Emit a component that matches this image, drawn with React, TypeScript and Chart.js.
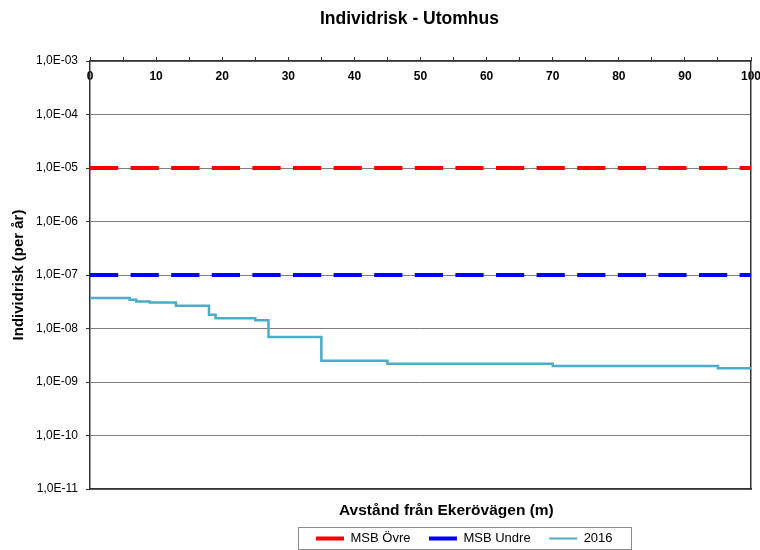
import React, { useEffect, useRef } from 'react';
import { Chart, registerables } from 'chart.js';

Chart.register(...registerables);

// ---- data ----
const chartTitle = 'Individrisk - Utomhus';
const xAxisTitle = 'Avstånd från Ekerövägen (m)';
const yAxisTitle = 'Individrisk (per år)';
const seriesNames = ['MSB Övre', 'MSB Undre', '2016'];
const seriesColors = ['#ff0000', '#0000ff', '#4bacc6'];

const msbDistances = [0, 100];
const msbUpper = [1e-5, 1e-5];
const msbLower = [1e-7, 1e-7];

const distances2016 = [0, 6, 7, 9, 13, 18, 19, 25, 27, 35, 45, 70, 95, 100];
const risk2016 = [3.7e-8, 3.45e-8, 3.2e-8, 3.05e-8, 2.65e-8, 1.8e-8, 1.55e-8, 1.42e-8, 6.9e-9, 2.5e-9, 2.2e-9, 2.0e-9, 1.8e-9, 1.8e-9];

const yTickValues = [1e-11, 1e-10, 1e-9, 1e-8, 1e-7, 1e-6, 1e-5, 1e-4, 1e-3];
const xMin = 0;
const xMax = 100;
const xMinorStep = 5;
const xLabelStep = 10;

// ---- layout constants ----
const FONT = '"Liberation Sans", Arial, sans-serif';
const TITLE_SIZE = 17.5;
const TITLE_LEFT = 320;
const XTITLE_SIZE = 15.5;
const XTITLE_LEFT = 339;
const XTITLE_MID = 511;
const LEGEND_SIZE = 13;
const LEGEND_ITEM_LEFT = 316;
const LEGEND_ITEM_TOP = 532;
const LEGEND_PAD = 18.5;

const toPoints = (xs: number[], ys: number[]) => xs.map((x, i) => ({ x, y: ys[i] }));

const formatExp = (v: number) => {
  const [m, e] = v.toExponential(1).split('e');
  const n = parseInt(e, 10);
  const sign = n < 0 ? '-' : '+';
  const abs = Math.abs(n).toString().padStart(2, '0');
  return m.replace('.', ',') + 'E' + sign + abs;
};

const centerBoxOn = (box: any, left: number, width: number) => {
  const half = (box.right - box.left) / 2;
  const c = left + width / 2;
  box.left = c - half;
  box.right = c + half;
};

const layoutPlugin = {
  id: 'layoutTweaks',
  afterLayout(chart: any) {
    const ctx = chart.ctx;
    const lg = chart.legend;
    if (lg) {
      const dx = LEGEND_ITEM_LEFT - LEGEND_PAD - lg.left;
      lg.left += dx;
      lg.right += dx;
      lg.top = LEGEND_ITEM_TOP - LEGEND_PAD;
      lg.bottom = chart.height;
      lg.height = lg.bottom - lg.top;
    }
    const tb = chart.titleBlock;
    if (tb) {
      ctx.save();
      ctx.font = `bold ${TITLE_SIZE}px ${FONT}`;
      const w = ctx.measureText(chartTitle).width;
      ctx.restore();
      centerBoxOn(tb, TITLE_LEFT, w);
    }
    const st = chart.boxes.find((b: any) => b !== tb && b.options && b.options.text === xAxisTitle);
    if (st) {
      ctx.save();
      ctx.font = `bold ${XTITLE_SIZE}px ${FONT}`;
      const w = ctx.measureText(xAxisTitle).width;
      ctx.restore();
      centerBoxOn(st, XTITLE_LEFT, w);
      const h = st.bottom - st.top;
      st.top = XTITLE_MID - h / 2;
      st.bottom = st.top + h;
    }
  },
  afterDraw(chart: any) {
    const lg = chart.legend;
    if (!lg || !lg.legendHitBoxes || !lg.legendHitBoxes.length) return;
    const hb = lg.legendHitBoxes;
    const last = hb[hb.length - 1];
    const l = Math.round(hb[0].left - 18);
    const r = Math.round(last.left + last.width + 18);
    const t = Math.round(hb[0].top - 5);
    const b = Math.round(hb[0].top + hb[0].height + 4);
    const ctx = chart.ctx;
    ctx.save();
    ctx.strokeStyle = '#8c8c8c';
    ctx.lineWidth = 1;
    ctx.setLineDash([]);
    ctx.strokeRect(l + 0.5, t + 0.5, r - l, b - t);
    ctx.restore();
  },
};

export default function App() {
  const ref = useRef<HTMLCanvasElement | null>(null);

  useEffect(() => {
    if (!ref.current) return;
    Chart.defaults.font.family = FONT;
    Chart.defaults.color = '#000';
    const dash = [28.2, 12.4];
    const chart = new Chart(ref.current, {
      type: 'line',
      data: {
        datasets: [
          {
            label: seriesNames[0],
            data: toPoints(msbDistances, msbUpper),
            borderColor: seriesColors[0],
            backgroundColor: seriesColors[0],
            borderWidth: 4,
            borderDash: dash,
            borderCapStyle: 'butt',
            pointRadius: 0,
            fill: false,
            xAxisID: 'x',
            yAxisID: 'y',
          },
          {
            label: seriesNames[1],
            data: toPoints(msbDistances, msbLower),
            borderColor: seriesColors[1],
            backgroundColor: seriesColors[1],
            borderWidth: 4,
            borderDash: dash,
            borderCapStyle: 'butt',
            pointRadius: 0,
            fill: false,
            xAxisID: 'x',
            yAxisID: 'y',
          },
          {
            label: seriesNames[2],
            data: toPoints(distances2016, risk2016),
            borderColor: seriesColors[2],
            backgroundColor: seriesColors[2],
            borderWidth: 2.5,
            stepped: 'before',
            pointRadius: 0,
            fill: false,
            xAxisID: 'x',
            yAxisID: 'y',
          },
        ],
      },
      options: {
        animation: false,
        responsive: false,
        devicePixelRatio: 1,
        layout: { padding: { left: 0, right: 9, top: 0, bottom: 0 } },
        scales: {
          x: {
            type: 'linear',
            position: 'top',
            min: xMin,
            max: xMax,
            ticks: {
              stepSize: xMinorStep,
              autoSkip: false,
              maxRotation: 0,
              mirror: true,
              padding: 8,
              color: '#000',
              font: { size: 12, weight: 'bold' },
              callback: (v: any) => (Number(v) % xLabelStep === 0 ? String(v) : ''),
            },
            grid: {
              display: true,
              drawOnChartArea: false,
              drawTicks: true,
              tickLength: 4,
              tickColor: '#333',
            },
            border: { display: true, color: '#333', width: 1.5 },
            afterFit: (s: any) => {
              s.height = 26;
              s.paddingLeft = 0;
              s.paddingRight = 0;
            },
          },
          x2: {
            type: 'linear',
            position: 'bottom',
            display: true,
            min: xMin,
            max: xMax,
            ticks: { display: false },
            grid: { display: false, drawTicks: false },
            border: { display: true, color: '#333', width: 1.5 },
            afterFit: (s: any) => {
              s.height = 25;
              s.paddingLeft = 0;
              s.paddingRight = 0;
            },
          },
          y: {
            type: 'logarithmic',
            position: 'left',
            min: yTickValues[0],
            max: yTickValues[yTickValues.length - 1],
            afterBuildTicks: (s: any) => {
              s.ticks = yTickValues.map((v) => ({ value: v }));
            },
            ticks: {
              autoSkip: false,
              padding: 8,
              color: '#000',
              font: { size: 12 },
              callback: (v: any) => formatExp(Number(v)),
            },
            grid: {
              color: '#7f7f7f',
              lineWidth: 1,
              drawTicks: true,
              tickLength: 4,
              tickColor: '#333',
            },
            border: { display: true, color: '#333', width: 1.5 },
            title: {
              display: true,
              text: yAxisTitle,
              color: '#000',
              font: { size: 15, weight: 'bold' },
              padding: { top: 10, bottom: 0 },
            },
            afterFit: (s: any) => {
              s.width = 90;
              s.paddingTop = 0;
              s.paddingBottom = 0;
            },
          },
          y2: {
            type: 'linear',
            position: 'right',
            display: true,
            min: 0,
            max: 1,
            ticks: { display: false },
            grid: { display: false, drawTicks: false },
            border: { display: true, color: '#333', width: 1.5 },
            afterFit: (s: any) => {
              s.width = 0;
              s.paddingTop = 0;
              s.paddingBottom = 0;
            },
          },
        },
        plugins: {
          title: {
            display: true,
            text: chartTitle,
            color: '#000',
            font: { size: TITLE_SIZE, weight: 'bold', lineHeight: 1 },
            padding: { top: 10, bottom: 7.5 },
          },
          subtitle: {
            display: true,
            position: 'bottom',
            text: xAxisTitle,
            color: '#000',
            font: { size: XTITLE_SIZE, weight: 'bold', lineHeight: '16px' },
            padding: 0,
          },
          legend: {
            display: true,
            position: 'bottom',
            align: 'start',
            maxHeight: 20,
            labels: {
              usePointStyle: true,
              pointStyleWidth: 28,
              padding: LEGEND_PAD,
              color: '#000',
              font: { size: LEGEND_SIZE },
              generateLabels: () =>
                seriesNames.map((name, i) => ({
                  text: name,
                  fillStyle: seriesColors[i],
                  strokeStyle: seriesColors[i],
                  fontColor: '#000',
                  lineWidth: i < 2 ? 4 : 2,
                  lineDash: [],
                  lineCap: 'butt',
                  pointStyle: 'line',
                  hidden: false,
                  datasetIndex: i,
                })),
            },
          },
          tooltip: { enabled: false },
        },
      } as any,
      plugins: [layoutPlugin],
    });
    return () => chart.destroy();
  }, []);

  return (
    <div style={{ position: 'fixed', left: 0, top: 0, width: 760, height: 550 }}>
      <canvas ref={ref} width={760} height={550} style={{ display: 'block', width: 760, height: 550 }} />
    </div>
  );
}
